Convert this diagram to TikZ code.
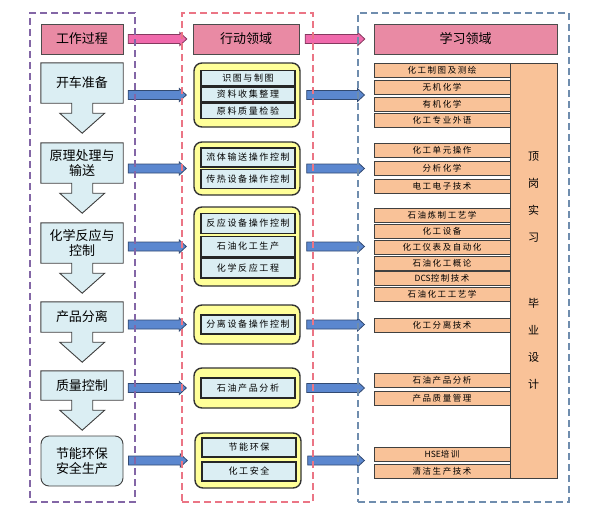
\documentclass[tikz,border=0pt]{standalone}
\usepackage{fontspec}
\setmainfont{Noto Sans CJK SC}
\newfontfamily\spacedfont[LetterSpace=18]{Noto Sans CJK SC}
\newfontfamily\plainfont{Noto Sans CJK SC}
\usetikzlibrary{calc, positioning}

\pgfdeclarelayer{background}
\pgfdeclarelayer{front}
\pgfsetlayers{background,main,front}

\definecolor{hdpink}{HTML}{E98AA4}
\definecolor{arpink}{HTML}{F06AAC}
\definecolor{procblue}{HTML}{DBEEF3}
\definecolor{arblue}{HTML}{5B87CF}
\definecolor{grpyellow}{HTML}{FFFF99}
\definecolor{crsorange}{HTML}{F9C298}
\definecolor{dashpurple}{HTML}{8366A6}
\definecolor{dashred}{HTML}{EB7585}
\definecolor{dashblue}{HTML}{6F8DAE}

\tikzset{
  header/.style={draw=black!70, fill=hdpink, minimum height=30pt, inner sep=0pt, font=\fontsize{13}{15}\selectfont},
  proc/.style={minimum width=82pt, inner sep=0pt, align=center, font=\fontsize{13}{15}\selectfont},
  procline/.style={draw=black!75, line width=0.9pt, fill=procblue},
  grp/.style={draw=black!80, line width=1.4pt, fill=grpyellow, rounded corners=8pt, minimum width=106pt},
  act/.style={draw=black!85, line width=1.1pt, fill=procblue, minimum width=94pt, inner sep=0pt, font=\spacedfont\fontsize{9}{10}\selectfont},
  course/.style={draw=black!75, line width=0.8pt, fill=crsorange, minimum width=136pt, minimum height=14pt, inner sep=0pt, font=\spacedfont\fontsize{8.5}{9}\selectfont},
  area/.style={line width=1.1pt, dash pattern=on 7pt off 4pt},
  arline/.style={draw=#1!55!black, line width=0.8pt, fill=#1},
}

% block arrow: colour, tail, tip
\newcommand{\blockarrow}[3]{%
  \draw[arline=#1] let \p1=#2, \p2=#3 in
    (\x1,\y1+4.5) -- (\x2-7,\y1+4.5) -- (\x2-7,\y1+6.5) -- (\x2,\y1)
    -- (\x2-7,\y1-6.5) -- (\x2-7,\y1-4.5) -- (\x1,\y1-4.5) -- cycle;
}

\begin{document}
\begin{tikzpicture}[x=1pt, y=-1pt]
  \useasboundingbox (0,0) rectangle (592,514);
  % 三个虚线区域
  \begin{pgfonlayer}{front}
    \node[area, draw=dashpurple, minimum width=105pt, minimum height=489pt] (workarea) at (82.5,257.5) {};
    \node[area, draw=dashred, minimum width=131pt, minimum height=489pt] (actarea) at (247.5,257.5) {};
    \node[area, draw=dashblue, minimum width=211pt, minimum height=489pt] (lrnarea) at (463.5,257.5) {};
  \end{pgfonlayer}
  % 标题
  \node[header, minimum width=82pt] (hwork) at (82,39) {工作过程};
  \node[header, minimum width=106pt] (hact) at (246,39) {行动领域};
  \node[header, minimum width=183pt] (hlearn) at (465.5,39) {学习领域};
  \blockarrow{arpink}{($(hwork.east)+(5,0)$)}{($(hact.west)+(-6,0)$)}
  \blockarrow{arpink}{($(hact.east)+(6,0)$)}{($(hlearn.west)+(-9,0)$)}
  % 工作过程
  \foreach \n/\y/\h/\txt in {p1/83/40/开车准备, p2/163/40/{原理处理与\\输送}, p3/243/40/{化学反应与\\控制}, p4/317/30/产品分离, p5/385.5/29/质量控制}
    \node[proc, minimum height=\h pt] (\n) at (82,\y) {\txt};
  \begin{pgfonlayer}{background}
    \foreach \n in {p1,p2,p3,p4,p5}
      \draw[procline] (\n.north west) -- (\n.north east) -- (\n.south east) -- ++(-30.5,0) -- ++(0,10)
        -- ++(12,0) -- ++(-22.5,20) -- ++(-22.5,-20) -- ++(12,0) -- ++(0,-10) -- (\n.south west) -- cycle;
  \end{pgfonlayer}
  \node[proc, procline, rounded corners=8pt, minimum height=50pt] (p6) at (82,461) {节能环保\\安全生产};
  % 行动领域
  \node[grp, minimum height=64pt] (g1) at (247,95) {};
  \foreach \n/\y/\txt in {a1/78/识图与制图, a2/94.5/资料收集整理, a3/111/原料质量检验}
    \node[act, minimum height=15pt] (\n) at (248,\y) {\txt};
  \node[grp, minimum height=53pt] (g2) at (247,168.5) {};
  \foreach \n/\y/\txt in {a4/157.5/流体输送操作控制, a5/179/传热设备操作控制}
    \node[act, minimum height=19pt] (\n) at (248,\y) {\txt};
  \node[grp, minimum height=79pt] (g3) at (247,246.5) {};
  \foreach \n/\y/\txt in {a6/223.5/反应设备操作控制, a7/246.5/石油化工生产, a8/268/化学反应工程}
    \node[act, minimum height=20pt] (\n) at (248,\y) {\txt};
  \node[grp, minimum height=39pt] (g4) at (247,324.5) {};
  \node[act, minimum height=19pt] (a9) at (248,324.5) {分离设备操作控制};
  \node[grp, minimum height=40pt] (g5) at (247,388) {};
  \node[act, minimum height=20pt] (a10) at (248,388) {石油产品分析};
  \node[grp, minimum height=55pt] (g6) at (248,460.5) {};
  \foreach \n/\y/\txt in {a11/447.5/节能环保, a12/471.5/化工安全}
    \node[act, minimum height=19pt] (\n) at (249,\y) {\txt};
  % 学习领域
  \foreach \n/\y/\txt in {c1/70/化工制图及测绘, c2/87/无机化学, c3/104/有机化学, c4/120/化工专业外语,
      c5/150/化工单元操作, c6/168/分析化学, c7/186/电工电子技术,
      c8/215/石油炼制工艺学, c9/231/化工设备, c10/247/化工仪表及自动化, c11/263/石油化工概论,
      c12/278/{{\plainfont DCS}控制技术}, c13/294/石油化工工艺学, c14/325/化工分离技术,
      c15/380/石油产品分析, c16/398/产品质量管理, c17/454/{{\plainfont HSE}培训}, c18/471/清洁生产技术}
    \node[course] (\n) at (442,\y) {\txt};
  \node[course, minimum width=47pt, minimum height=415pt, align=center, font=\fontsize{11}{27}\selectfont] (intern) at (533.5,270.5)
    {顶\\岗\\实\\习\\[39pt]毕\\业\\设\\计};
  % 箭头
  \foreach \i in {1,...,6}{
    \blockarrow{arblue}{($(p\i.east |- g\i.west)+(5,0)$)}{($(g\i.west)+(-7,0)$)}
    \blockarrow{arblue}{($(g\i.east)+(6,0)$)}{($(g\i.east -| lrnarea.west)+(7,0)$)}
  }
\end{tikzpicture}
\end{document}
